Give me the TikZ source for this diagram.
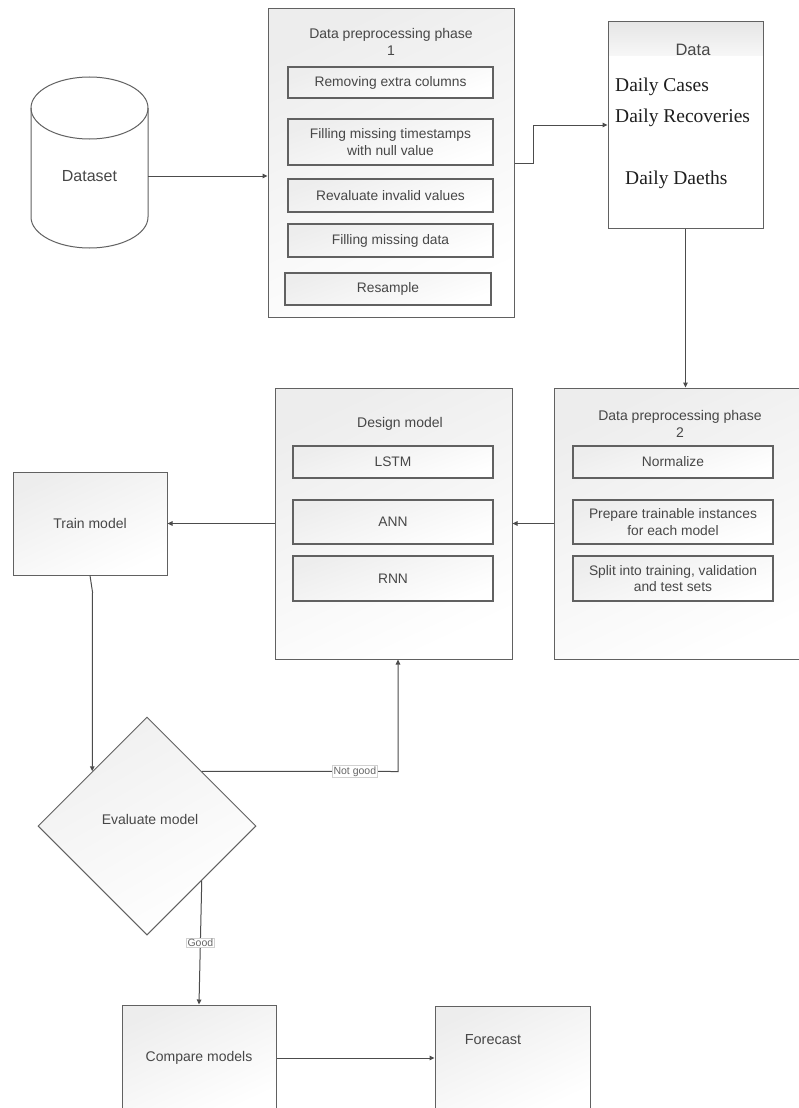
\documentclass[tikz,border=0pt]{standalone}
\usepackage{fontspec}
\setmainfont{Liberation Sans}
\newfontfamily\timesfont{Liberation Serif}
\usetikzlibrary{shapes.geometric,arrows.meta}
\begin{document}
\begin{tikzpicture}[x=1pt,y=-1pt,
  outerbox/.style={draw=black!62, line width=1pt, top color=black!7, bottom color=white, shading angle=25, inner sep=0pt},
  innerbox/.style={draw=black!62, line width=1.3pt, top color=black!7, bottom color=white, shading angle=20, inner sep=0pt, align=center,
     font=\fontsize{13.8}{16.5}\selectfont, text=black!72},
  txt/.style={font=\fontsize{14}{17}\selectfont, text=black!72, align=center, inner sep=0pt},
  dtxt/.style={font=\timesfont\fontsize{19.5}{22}\selectfont, text=black!88, inner sep=0pt, anchor=west},
  arr/.style={draw=black!70, line width=1pt, -{Triangle[length=5pt,width=4.5pt]}},
  lbl/.style={fill=white, draw=black!18, line width=0.4pt, inner sep=1pt, font=\fontsize{10.5}{12}\selectfont, text=black!60}
]
\useasboundingbox (0,0) rectangle (799,1108);
\clip (0,0) rectangle (799,1108);
\fill[white] (0,0) rectangle (799,1108);

% Dataset cylinder
\fill[white] (31,108) -- (31,217) arc[start angle=180,end angle=0,x radius=58.5,y radius=31] -- (148,108) -- cycle;
\draw[draw=black!62, line width=1pt, fill=white] (89.5,108) ellipse[x radius=58.5, y radius=31];
\draw[draw=black!62, line width=1pt] (31,108) -- (31,217) arc[start angle=180,end angle=0,x radius=58.5,y radius=31] -- (148,108);
\node[inner sep=0pt, minimum width=117, minimum height=142, font=\fontsize{16}{19}\selectfont, text=black!72] (dataset) at (89.5,176) {Dataset};

% Phase 1
\node[outerbox, minimum width=246, minimum height=308] (p1) at (391,163) {};
\node[txt] (p1t) at (391,42) {Data preprocessing phase\\1};
\node[innerbox, minimum width=205, minimum height=31] (r1) at (390.5,82.5) {Removing extra columns};
\node[innerbox, minimum width=205, minimum height=46] (r2) at (390.5,142) {Filling missing timestamps\\with null value};
\node[innerbox, minimum width=205, minimum height=33] (r3) at (390.5,195.5) {Revaluate invalid values};
\node[innerbox, minimum width=205, minimum height=33] (r4) at (390.5,240.5) {Filling missing data};
\node[innerbox, minimum width=206, minimum height=32] (r5) at (388,289) {Resample};

% Data box
\shade[top color=black!10, bottom color=black!3] (608,22) rectangle (763,56);
\node[draw=black!62, line width=1pt, minimum width=155, minimum height=206, inner sep=0pt] (data) at (685.5,125) {};
\node[txt, font=\fontsize{16.5}{19}\selectfont] (datat) at (693,50) {Data};
\node[dtxt] (dc) at (615,87) {Daily Cases};
\node[dtxt] (dr) at (615,118) {Daily Recoveries};
\node[dtxt] (dd) at (625,180) {Daily Daeths};

% Phase 2
\node[outerbox, minimum width=262, minimum height=271] (p2) at (685,523.5) {};
\node[txt] (p2t) at (680,423.5) {Data preprocessing phase\\2};
\node[innerbox, minimum width=200, minimum height=32] (n1) at (673,462) {Normalize};
\node[innerbox, minimum width=200, minimum height=44] (n2) at (673,522) {Prepare trainable instances\\for each model};
\node[innerbox, minimum width=200, minimum height=45] (n3) at (673,578.5) {Split into training, validation\\and test sets};

% Design model
\node[outerbox, minimum width=237, minimum height=271] (dm) at (393.5,523.5) {};
\node[txt] (dmt) at (400,424) {Design model};
\node[innerbox, minimum width=200, minimum height=32] (m1) at (393,462) {LSTM};
\node[innerbox, minimum width=200, minimum height=44] (m2) at (393,522) {ANN};
\node[innerbox, minimum width=200, minimum height=45] (m3) at (393,578.5) {RNN};

% Train model
\node[outerbox, minimum width=154, minimum height=103, txt] (train) at (90,523.5) {Train model};

% Evaluate diamond
\node[diamond, draw=black!62, line width=1pt, top color=black!6, bottom color=white, shading angle=30, inner sep=0pt, minimum width=218, minimum height=218, aspect=1] (eval) at (147,826) {};
\node[txt] (evalt) at (150,819) {Evaluate model};

% Compare / Forecast
\node[outerbox, minimum width=154, minimum height=106, txt] (cmp) at (199,1058) {Compare models};
\node[outerbox, minimum width=155, minimum height=104] (fc) at (512.5,1058) {};
\node[txt, font=\fontsize{14.5}{17}\selectfont] (fct) at (493,1040) {Forecast};

% Connectors
\draw[arr] (dataset.east) -- (dataset.east -| p1.west);
\coordinate (j1) at (533,163);
\draw[arr] (p1.east) -- (j1) |- (data.west);
\draw[arr] (data.south) -- (data.south |- p2.north);
\draw[arr] (p2.west) -- (dm.east);
\draw[arr] (dm.west) -- (train.east);
\coordinate (k1) at (92.5,592);
\draw[arr] (train.south) -- (k1) -- (eval.north west);
\coordinate (ng) at (398,771.5);
\draw[arr] (eval.north east) -- node[lbl, pos=0.78] {Not good} (ng) -- (ng |- dm.south);
\draw[arr] (eval.south east) -- node[lbl, pos=0.5] {Good} (cmp.north);
\draw[arr] (cmp.east) -- (fc.west);
\end{tikzpicture}
\end{document}
